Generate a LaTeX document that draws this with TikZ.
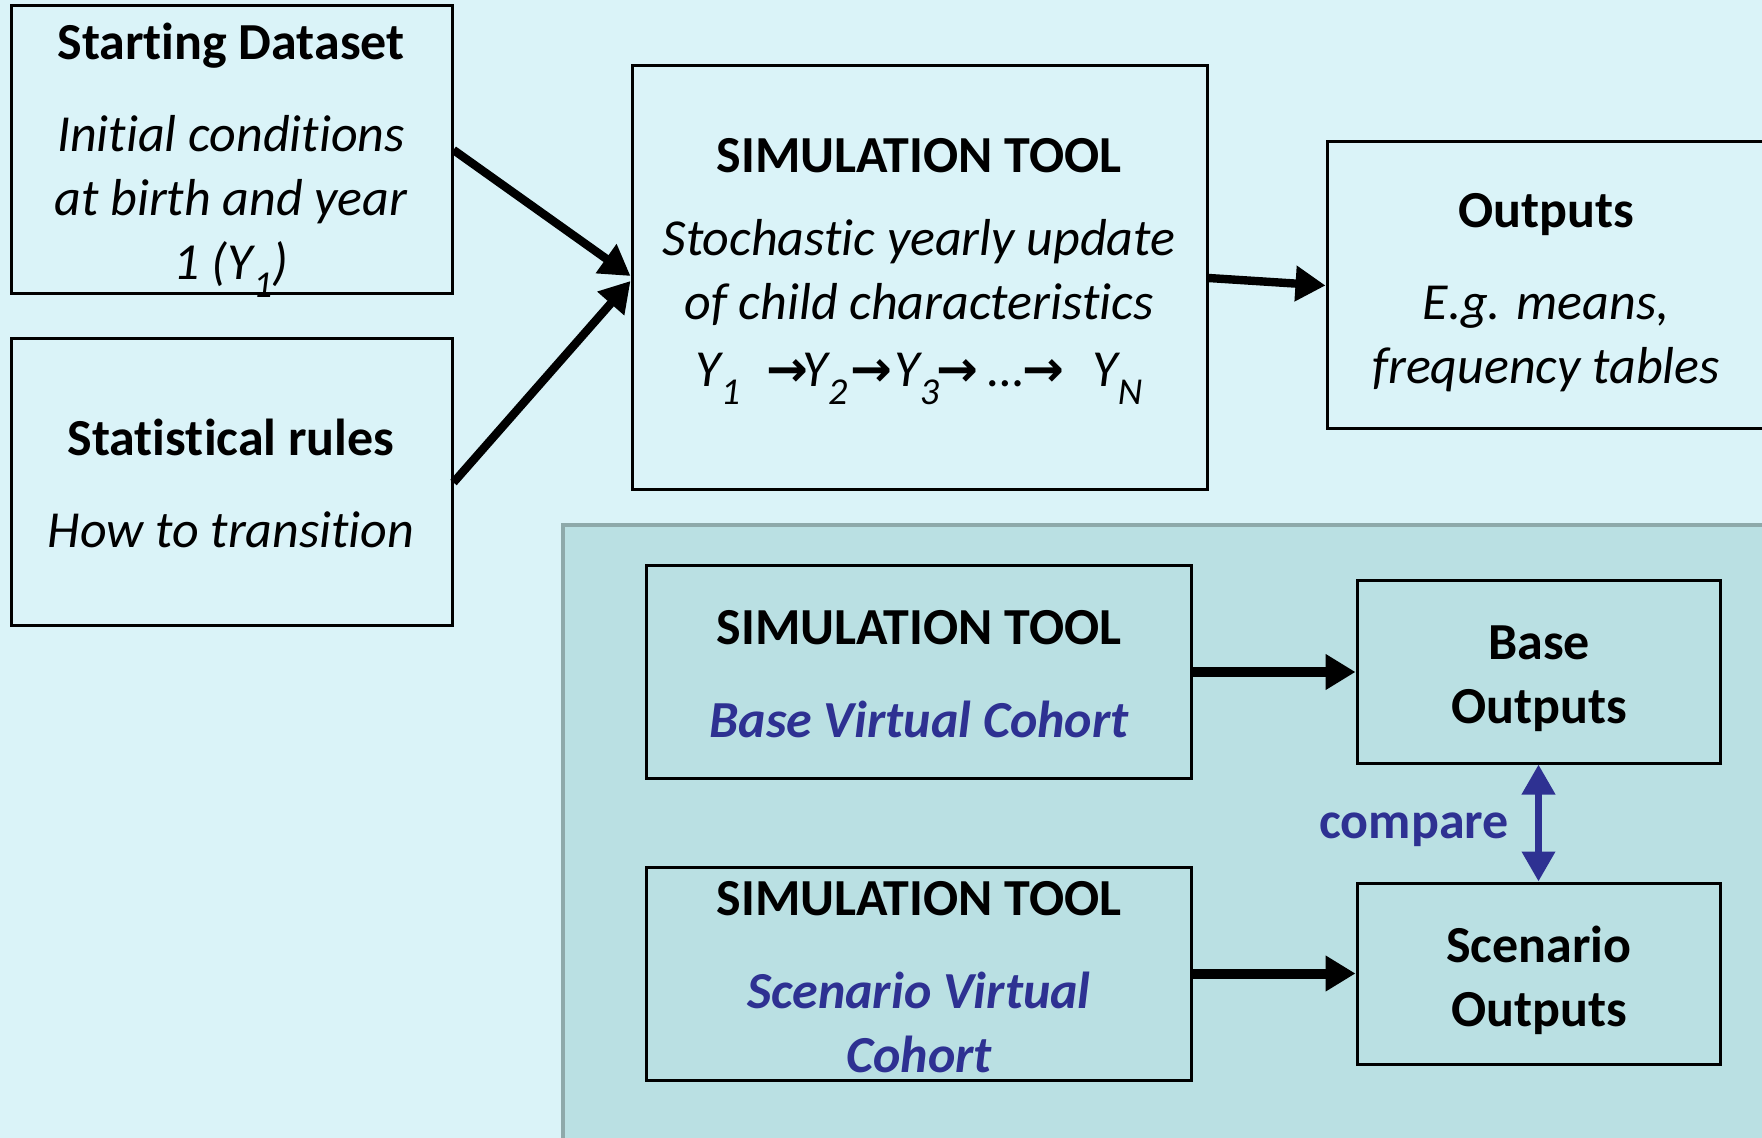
\documentclass[tikz,border=0pt]{standalone}
\usepackage{fontspec}
\setmainfont{Carlito}[Ligatures={NoCommon}, RawFeature={-liga;-clig;-calt;-dlig}]
\newfontfamily\arrowfont{DejaVu Sans}
\usetikzlibrary{arrows.meta,calc}
\definecolor{bgc}{HTML}{DAF3F8}
\definecolor{panelc}{HTML}{BAE0E3}
\definecolor{panelborder}{HTML}{8EA9AA}
\definecolor{bluet}{HTML}{2E3192}
\newcommand{\smallarr}{{\arrowfont\bfseries\fontsize{25}{25}\selectfont →}}
\newcommand{\subs}[1]{\raisebox{-0.34em}{\fontsize{19}{19}\selectfont #1}}
\begin{document}
\begin{tikzpicture}[x=0.5pt,y=-0.5pt,
  box/.style={draw=black, line width=1.5pt, inner sep=0pt},
  txt/.style={font=\fontsize{26}{32}\selectfont, inner sep=0pt, anchor=center, text height=18pt, text depth=6pt},
  ttl/.style={txt, font=\fontsize{26}{32}\selectfont\bfseries},
  itx/.style={txt, font=\fontsize{26}{32}\selectfont\itshape},
  bit/.style={txt, text=bluet, font=\fontsize{26}{32}\selectfont\bfseries\itshape},
  bigarrow/.style={line width=4.2pt, -{Triangle[length=15pt,width=17pt]}},
  flatarrow/.style={line width=5pt, -{Triangle[length=15pt,width=17pt]}},
  cmparrow/.style={draw=bluet, line width=3.5pt, {Triangle[length=15pt,width=16pt]}-{Triangle[length=15pt,width=16pt]}}
]
\useasboundingbox (0,0) rectangle (1762,1138);
\clip (0,0) rectangle (1762,1138);
\fill[bgc] (0,0) rectangle (1762,1138);

% top row boxes
\node[box, minimum width=220.5pt, minimum height=144pt] (sd) at (231.5,150) {};
\node[box, minimum width=220.5pt, minimum height=143.5pt] (sr) at (231.5,482.5) {};
\node[box, minimum width=287.5pt, minimum height=212pt] (sim) at (919.5,278) {};
\node[box, minimum width=221.5pt, minimum height=143.5pt] (out) at (1548.5,285.5) {};

\node[ttl] (sdt) at (231,48) {Starting Dataset};
\node[itx] (sd1) at (231,140) {Initial conditions};
\node[itx] (sd2) at (231,204) {at birth and year};
\node[itx] (sd3) at (231,268) {1 (Y\subs{1})};

\node[ttl] (srt) at (231,444) {Statistical rules};
\node[itx] (sr1) at (231,536) {How to transition};

\node[ttl] (simt) at (919,161) {SIMULATION TOOL};
\node[itx] (sim1) at (919,244) {Stochastic yearly update};
\node[itx] (sim2) at (919,308) {of child characteristics};
\node[itx] (sim3) at (919,375) {Y\subs{1}\hspace{0.5em}\smallarr\hspace{-0.1em}Y\subs{2}\hspace{0.05em}\smallarr\hspace{0.05em}Y\subs{3}\hspace{-0.05em}\smallarr\hspace{0.2em}…\hspace{-0.05em}\smallarr\hspace{0.55em}Y\subs{N}};

\node[ttl] (outt) at (1546,216) {Outputs};
\node[itx] (out1) at (1546,308) {E.g. means,};
\node[itx] (out2) at (1546,372) {frequency tables};

% arrows top
\draw[bigarrow] (sd.east) -- ($(sim.west)+(0,-2)$);
\draw[bigarrow] (sr.east) -- ($(sim.west)+(0,3)$);
\draw[bigarrow] (sim.east) -- (out.west);

% panel
\draw[fill=panelc, draw=panelborder, line width=2pt] (563,525) rectangle (1790,1160);

\node[box, minimum width=272.5pt, minimum height=106pt] (bsim) at (918.5,672) {};
\node[box, minimum width=272.5pt, minimum height=106.5pt] (ssim) at (918.5,973.5) {};
\node[box, minimum width=181.5pt, minimum height=91pt] (bout) at (1538.5,672) {};
\node[box, minimum width=181.5pt, minimum height=90.5pt] (sout) at (1538.5,973.5) {};

\node[ttl] (bsimt) at (919,633) {SIMULATION TOOL};
\node[bit] (bsim1) at (919,725) {Base Virtual Cohort};
\node[ttl] (ssimt) at (919,903) {SIMULATION TOOL};
\node[bit] (ssim1) at (919,996) {Scenario Virtual};
\node[bit] (ssim2) at (919,1060) {Cohort};

\node[ttl] (bout1) at (1539,648) {Base};
\node[ttl] (bout2) at (1539,712) {Outputs};
\node[ttl] (sout1) at (1539,950) {Scenario};
\node[ttl] (sout2) at (1539,1014) {Outputs};

\draw[flatarrow] (bsim.east) -- (bout.west);
\draw[flatarrow] (ssim.east) -- (sout.west);
\draw[cmparrow] (bout.south) -- (sout.north);
\node[ttl, text=bluet] (cmp) at (1414,826) {compare};
\end{tikzpicture}
\end{document}
